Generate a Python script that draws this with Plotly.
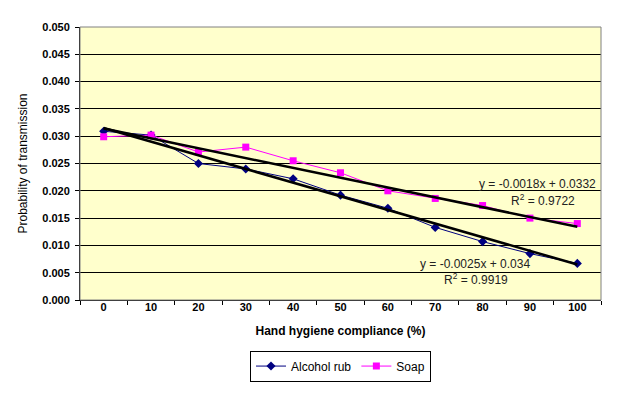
import plotly.graph_objects as go

compliance = ["0", "10", "20", "30", "40", "50", "60", "70", "80", "90", "100"]
alcohol_rub = [0.0309, 0.0302, 0.0250, 0.0240, 0.0222, 0.0192, 0.0168, 0.0133, 0.0107, 0.0085, 0.0067]
soap = [0.0299, 0.0302, 0.0271, 0.0280, 0.0255, 0.0233, 0.0200, 0.0186, 0.0173, 0.0150, 0.0140]

# Excel trendline coefficients (x = point index 1..11)
alc_slope, alc_icpt = -0.0025, 0.034
soap_slope, soap_icpt = -0.0018, 0.0332

y_ticks = [0.000, 0.005, 0.010, 0.015, 0.020, 0.025, 0.030, 0.035, 0.040, 0.045, 0.050]
y_labels = ["%.3f" % v for v in y_ticks]

NAVY = "#000080"
MAGENTA = "#FF00FF"
FONT = "Liberation Sans, Arial, sans-serif"

fig = go.Figure()

fig.add_trace(go.Scatter(
    x=compliance, y=alcohol_rub, name="Alcohol rub", mode="lines+markers",
    line=dict(color=NAVY, width=1),
    marker=dict(symbol="diamond", size=7, color=NAVY),
))
fig.add_trace(go.Scatter(
    x=compliance, y=soap, name="Soap", mode="lines+markers",
    line=dict(color=MAGENTA, width=1),
    marker=dict(symbol="square", size=7, color=MAGENTA),
))

n = len(compliance)
ends = [compliance[0], compliance[-1]]
fig.add_trace(go.Scatter(
    x=ends, y=[soap_slope * 1 + soap_icpt, soap_slope * n + soap_icpt],
    mode="lines", line=dict(color="black", width=2.5), showlegend=False, hoverinfo="skip",
))
fig.add_trace(go.Scatter(
    x=ends, y=[alc_slope * 1 + alc_icpt, alc_slope * n + alc_icpt],
    mode="lines", line=dict(color="black", width=2.5), showlegend=False, hoverinfo="skip",
))

ann_font = dict(family=FONT, size=12, color="#222222")
annotations = [
    dict(x=590, y=175.5, text="y = -0.0018x + 0.0332", xanchor="right"),
    dict(x=535, y=191.5, text="R<sup>2</sup> = 0.9722", xanchor="center"),
    dict(x=467, y=256, text="y = -0.0025x + 0.034", xanchor="center"),
    dict(x=468, y=270.5, text="R<sup>2</sup> = 0.9919", xanchor="center"),
]
L, R, T, B = 72, 593, 19, 292
for a in annotations:
    fig.add_annotation(
        x=(a["x"] - L) / (R - L), y=(B - a["y"]) / (B - T), xref="paper", yref="paper",
        text=a["text"], showarrow=False, xanchor=a["xanchor"], yanchor="middle",
        font=ann_font,
    )

fig.add_shape(type="rect", xref="paper", yref="paper", x0=0, y0=0, x1=1, y1=1,
              line=dict(color="#808080", width=1), layer="above")

fig.update_layout(
    width=640, height=400,
    margin=dict(l=L, r=640 - R, t=T, b=400 - B),
    paper_bgcolor="white", plot_bgcolor="#FFFFCC",
    font=dict(family=FONT, color="black"),
    showlegend=True,
    legend=dict(
        orientation="h", x=0.5, xanchor="center", y=-0.242, yanchor="middle",
        bordercolor="black", borderwidth=1, bgcolor="white",
        font=dict(family=FONT, size=12, color="black"),
        itemwidth=30, tracegroupgap=0,
    ),
    xaxis=dict(
        type="category", tickson="boundaries", range=[-0.5, 10.5],
        showgrid=False, showline=True, linecolor="black", linewidth=1,
        ticks="outside", ticklen=4, tickcolor="black", ticklabelstandoff=-3,
        tickfont=dict(family=FONT, size=11, color="black", weight="bold"),
        title=dict(text="Hand hygiene compliance (%)", standoff=14,
                   font=dict(family=FONT, size=12, color="black", weight="bold")),
    ),
    yaxis=dict(
        range=[0, 0.05], tickvals=y_ticks, ticktext=y_labels,
        showgrid=True, gridcolor="black", gridwidth=1, zeroline=False,
        showline=True, linecolor="black", linewidth=1,
        ticks="outside", ticklen=4, tickcolor="black", ticklabelstandoff=3,
        tickfont=dict(family=FONT, size=11, color="black", weight="bold"),
        title=dict(text="Probability of transmission", standoff=12,
                   font=dict(family=FONT, size=12, color="black")),
    ),
)

fig.write_html("out.html")
